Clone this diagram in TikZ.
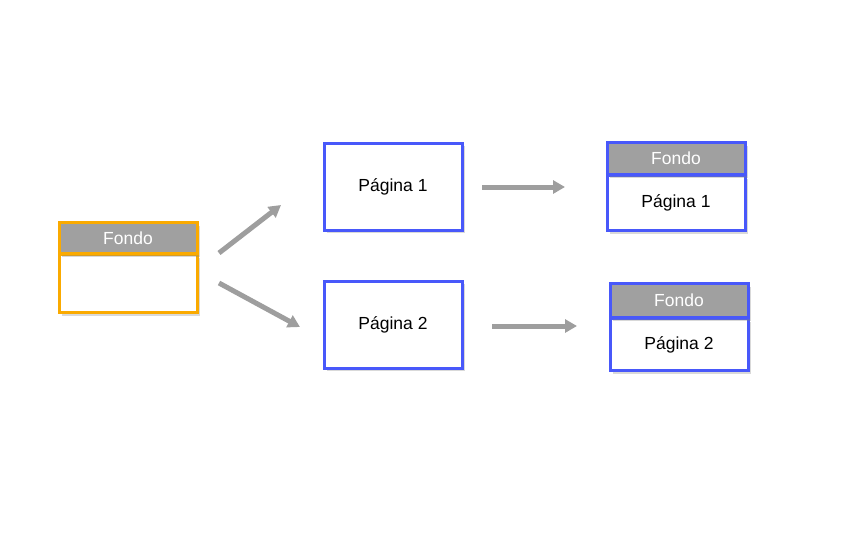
\documentclass[tikz,border=0pt]{standalone}
\usepackage{fontspec}
\setmainfont{Liberation Sans}
\usetikzlibrary{arrows.meta,shadows}
\definecolor{bblue}{RGB}{72,88,250}
\definecolor{borange}{RGB}{250,170,0}
\definecolor{hgray}{RGB}{160,160,160}
\definecolor{agray}{RGB}{158,158,158}
\tikzset{
  box/.style={draw=#1, line width=3pt, fill=white, minimum width=138pt, inner sep=0pt,
    font=\fontsize{17.5}{19}\selectfont, text=black,
    drop shadow={shadow xshift=2.5pt, shadow yshift=-3pt, opacity=0.3}},
  hdr/.style={box=#1, fill=hgray, text=white},
  arr/.style={line width=5pt, agray, -{Triangle[length=12pt,width=13pt]}}
}
\begin{document}
\begin{tikzpicture}[x=1pt,y=-1pt]
\useasboundingbox (0,0) rectangle (851,542);
% left
\node[box=borange, minimum height=58pt] (b0) at (128,283.5) {};
\node[hdr=borange, minimum height=31pt] (f0) at (128,238) {Fondo};
% middle
\node[box=bblue, minimum height=87pt] (p1) at (393,186.5) {Página 1};
\node[box=bblue, minimum height=87pt] (p2) at (393,324.5) {Página 2};
% right top
\node[box=bblue, minimum height=55pt] (r1b) at (676,203) {Página 1};
\node[hdr=bblue, minimum height=32pt] (r1h) at (676,158.5) {Fondo};
% right bottom
\node[box=bblue, minimum height=52pt] (r2b) at (679,344.5) {Página 2};
\node[hdr=bblue, minimum height=34pt] (r2h) at (679,300.5) {Fondo};
% arrows
\coordinate (a1s) at (219,253); \coordinate (a1e) at (281,205);
\coordinate (a2s) at (219,283); \coordinate (a2e) at (300,327);
\coordinate (a3s) at (482,187); \coordinate (a3e) at (565,187);
\coordinate (a4s) at (492,326); \coordinate (a4e) at (577,326);
\draw[arr] (a1s) -- (a1e);
\draw[arr] (a2s) -- (a2e);
\draw[arr] (a3s) -- (a3e);
\draw[arr] (a4s) -- (a4e);
\end{tikzpicture}
\end{document}
